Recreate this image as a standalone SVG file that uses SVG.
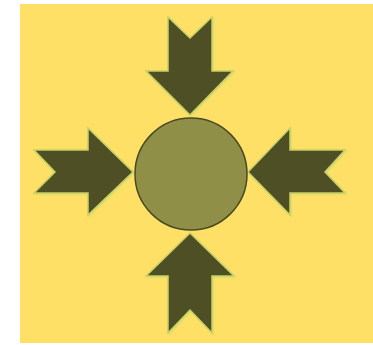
<svg xmlns="http://www.w3.org/2000/svg" width="373" height="345" viewBox="0 0 373 345">
<style>
.arrow{fill:#4f4f26;stroke:#c9d064;stroke-width:1.5;stroke-linejoin:miter}
.hub{fill:#8f8f47;stroke:#4a4a22;stroke-width:1.5}
</style>
<defs>
<filter id="glow" x="-20%" y="-20%" width="140%" height="140%">
<feGaussianBlur in="SourceAlpha" stdDeviation="0.8" result="b"/>
<feOffset dx="0.6" dy="0.8" result="o"/>
<feFlood flood-color="#d8dc6e"/>
<feComposite in2="o" operator="in" result="g"/>
<feMerge><feMergeNode in="g"/><feMergeNode in="SourceGraphic"/></feMerge>
</filter>
</defs>
<rect x="0" y="0" width="373" height="345" fill="#ffffff"/>
<rect x="20" y="4" width="353" height="339" fill="#ffe066"/>
<g id="connectors" filter="url(#glow)">
<polygon id="arrow-top" class="arrow" points="168,17 190,38 212,17 212,71 233,71 190,115 146,71 168,71"/>
<polygon id="arrow-left" class="arrow" points="34,150 88,150 88,128 133,172 88,215 88,193 34,193 55,172"/>
<polygon id="arrow-right" class="arrow" points="345,150 290,150 290,128 248,172 290,215 290,193 345,193 325,172"/>
<polygon id="arrow-bottom" class="arrow" points="190,233 234,276 212,276 212,333 190,310 168,333 168,276 146,276"/>
</g>
<g id="hub">
<circle class="hub" cx="191" cy="174" r="56"/>
</g>
</svg>
